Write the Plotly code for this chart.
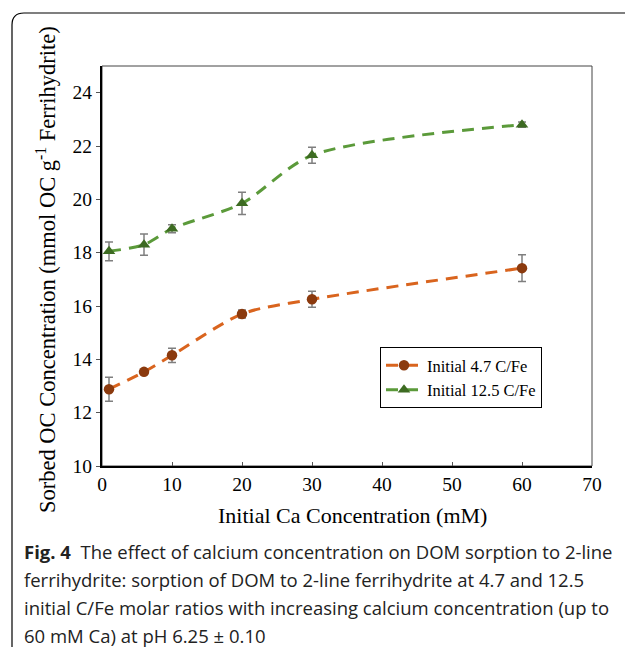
import plotly.graph_objects as go

ca = [1, 6, 10, 20, 30, 60]
low_cfe = [12.88, 13.53, 14.15, 15.70, 16.25, 17.42]
low_err = [0.45, 0.08, 0.27, 0.15, 0.30, 0.50]
high_cfe = [18.05, 18.30, 18.90, 19.85, 21.65, 22.80]
high_err = [0.35, 0.40, 0.15, 0.42, 0.30, 0.10]
x_ticks = [0, 10, 20, 30, 40, 50, 60, 70]
y_ticks = [10, 12, 14, 16, 18, 20, 22, 24]

W, H = 625, 647
L, R, T, B = 102, 33, 66, 181
pw, ph = W - L - R, H - T - B

def px(x):
    return (x - L) / pw

def py(y):
    return (H - B - y) / ph

fig = go.Figure()
fig.add_trace(go.Scatter(
    x=ca, y=low_cfe, name="Initial 4.7 C/Fe", mode="lines+markers",
    line=dict(color="#D9641E", width=3, dash="12px,8px", shape="spline", smoothing=0.8),
    marker=dict(color="#8B3A0E", size=10.5, symbol="circle"),
    error_y=dict(type="data", array=low_err, color="#7f7f7f", thickness=1.5, width=4),
))
fig.add_trace(go.Scatter(
    x=ca, y=high_cfe, name="Initial 12.5 C/Fe", mode="lines+markers",
    line=dict(color="#5B9A3A", width=3, dash="12px,8px", shape="spline", smoothing=0.8),
    marker=dict(color="#3D6B22", size=11, symbol="triangle-up"),
    error_y=dict(type="data", array=high_err, color="#7f7f7f", thickness=1.5, width=4),
))

serif = "Liberation Serif, Times New Roman, serif"
sans = "Open Sans, Noto Sans, sans-serif"

fig.update_layout(
    width=W, height=H,
    margin=dict(l=L, r=R, t=T, b=B),
    paper_bgcolor="white", plot_bgcolor="white",
    showlegend=True,
    legend=dict(x=px(380), y=py(347), xanchor="left", yanchor="top",
                bordercolor="black", borderwidth=1, bgcolor="white",
                font=dict(family=serif, size=16.5, color="black"),
                tracegroupgap=8, itemwidth=36),
    xaxis=dict(range=[0, 70], tickvals=x_ticks, showgrid=False, zeroline=False,
               showline=True, linecolor="black", linewidth=2, mirror=False,
               ticks="inside", ticklen=4, tickcolor="#555",
               tickfont=dict(family=serif, size=19.5, color="black")),
    yaxis=dict(range=[10, 25], tickvals=y_ticks, showgrid=False, zeroline=False,
               showline=True, linecolor="black", linewidth=2, mirror=False,
               ticks="outside", ticklen=4, tickcolor="#555",
               tickfont=dict(family=serif, size=19.5, color="black")),
)

# thin right/top border of plot area
fig.add_shape(type="rect", xref="paper", yref="paper", x0=0, y0=0, x1=1, y1=1,
              line=dict(color="#444", width=1), layer="below")

fig.add_annotation(text="Initial Ca Concentration (mM)",
                   xref="paper", yref="paper", x=px(352), y=py(515),
                   showarrow=False, xanchor="center", yanchor="middle",
                   font=dict(family=serif, size=22, color="black"))

fig.add_annotation(text="Sorbed OC Concentration (mmol OC g<sup>-1</sup> Ferrihydrite)",
                   xref="paper", yref="paper", x=px(46), y=py(270), textangle=-90,
                   showarrow=False, xanchor="center", yanchor="middle",
                   font=dict(family=serif, size=22.5, color="black"))

# outer frame with rounded corner
r = 12
path = (f"M {px(12)},{py(H + 5)} L {px(12)},{py(13 + r)} "
        f"Q {px(12)},{py(13)} {px(12 + r)},{py(13)} L {px(W + 5)},{py(13)}")
fig.add_shape(type="path", xref="paper", yref="paper", path=path,
              line=dict(color="black", width=1.2))

caption = [
    "<b>Fig. 4</b>  The effect of calcium concentration on DOM sorption to 2-line",
    "ferrihydrite: sorption of DOM to 2-line ferrihydrite at 4.7 and 12.5",
    "initial C/Fe molar ratios with increasing calcium concentration (up to",
    "60 mM Ca) at pH 6.25 ± 0.10",
]
for i, line in enumerate(caption):
    fig.add_annotation(text=line, xref="paper", yref="paper", x=px(22), y=py(551 + i * 28),
                       xanchor="left", yanchor="middle", showarrow=False,
                       font=dict(family=sans, size=18.5, color="#222"))

fig.write_html("out.html")
